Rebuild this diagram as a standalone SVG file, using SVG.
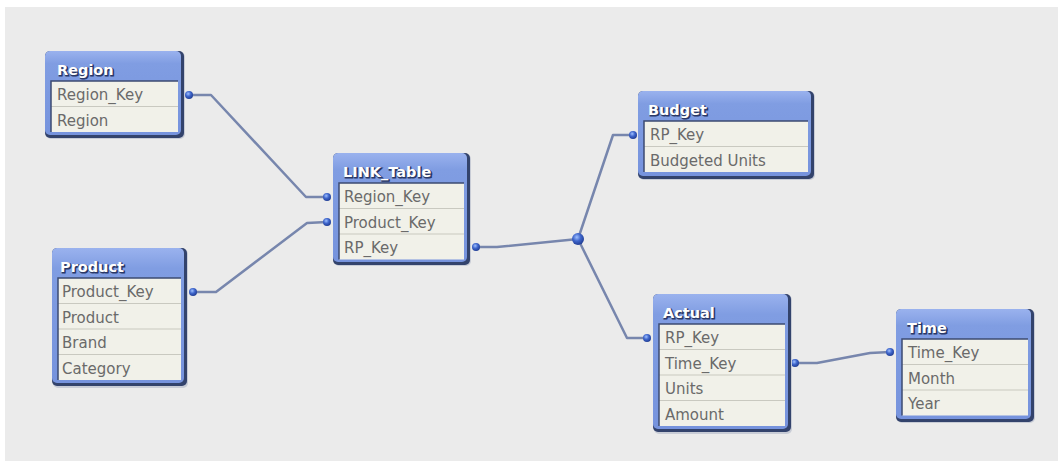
<svg xmlns="http://www.w3.org/2000/svg" width="1058" height="461" viewBox="0 0 1058 461">
<style>
.frame{fill:#33436c}
.blue{fill:url(#hdr)}
.panel{fill:#f1f1e9}
.pedge{stroke:#3c4b72;stroke-width:1.5;fill:none}
.sep{stroke:#c9c9c0;stroke-width:1.2}
.hd{font-family:"DejaVu Sans",sans-serif;font-weight:bold;font-size:14.5px;fill:#ffffff}
.hds{font-family:"DejaVu Sans",sans-serif;font-weight:bold;font-size:14.5px;fill:#2a3866;stroke:#2a3866;stroke-width:1.2}
.fld{font-family:"DejaVu Sans",sans-serif;font-size:15px;fill:#6a6a6a}
.ln{fill:none;stroke:#7786ad;stroke-width:2.5;stroke-linejoin:round}
.dot{fill:url(#dotg)}
</style>
<defs>
<linearGradient id="hdr" x1="0" y1="0" x2="0" y2="1">
<stop offset="0" stop-color="#9ab2ee"/>
<stop offset="0.15" stop-color="#809de2"/>
<stop offset="1" stop-color="#7693dd"/>
</linearGradient>
<radialGradient id="dotg" cx="0.4" cy="0.35" r="0.65">
<stop offset="0" stop-color="#9fc0ff"/>
<stop offset="0.5" stop-color="#3f66cc"/>
<stop offset="1" stop-color="#223f96"/>
</radialGradient>
</defs>
<rect x="0" y="0" width="1058" height="461" fill="#ffffff"/>
<rect x="5" y="7" width="1053" height="454" fill="#ebebeb"/>

<g id="connectors">
<polyline class="ln" points="189,95 211,95 306,197 327,197"/>
<polyline class="ln" points="193,292 216,292 307,223 327,222"/>
<polyline class="ln" points="476,247 497,247 578,239"/>
<polyline class="ln" points="578,239 613,135 633,135"/>
<polyline class="ln" points="578,239 627,338 647,338"/>
<polyline class="ln" points="795,363 817,363 870,353 890,352"/>
<circle class="dot" cx="189" cy="95" r="4"/>
<circle class="dot" cx="327" cy="197" r="4"/>
<circle class="dot" cx="193" cy="292" r="4"/>
<circle class="dot" cx="327" cy="222" r="4"/>
<circle class="dot" cx="476" cy="247" r="4"/>
<circle class="dot" cx="578" cy="239" r="6"/>
<circle class="dot" cx="633" cy="135" r="4"/>
<circle class="dot" cx="647" cy="338" r="4"/>
<circle class="dot" cx="795" cy="363" r="4"/>
<circle class="dot" cx="890" cy="352" r="4"/>
</g>

<g id="Region">
<rect x="46" y="52" width="139" height="87" rx="5" fill="#c8ccd6"/>
<rect class="frame" x="45" y="51" width="139" height="87" rx="5"/>
<rect class="blue" x="45" y="51" width="136" height="84" rx="5"/>
<rect class="panel" x="51" y="81" width="127" height="51"/>
<line class="sep" x1="51" y1="106.5" x2="178" y2="106.5"/>
<polyline class="pedge" points="51,132 51,81 178,81"/>
<text class="hds" x="58" y="76">Region</text><text class="hd" x="57" y="75">Region</text>
<text class="fld" x="57" y="100">Region_Key</text>
<text class="fld" x="57" y="126">Region</text>
</g>

<g id="Product">
<rect x="53" y="249" width="135" height="139" rx="5" fill="#c8ccd6"/>
<rect class="frame" x="52" y="248" width="135" height="138" rx="5"/>
<rect class="blue" x="52" y="248" width="132" height="135" rx="5"/>
<rect class="panel" x="58" y="278" width="123" height="102"/>
<line class="sep" x1="58" y1="303.5" x2="181" y2="303.5"/>
<line class="sep" x1="58" y1="329" x2="181" y2="329"/>
<line class="sep" x1="58" y1="354.5" x2="181" y2="354.5"/>
<polyline class="pedge" points="58,380 58,278 181,278"/>
<text class="hds" x="61" y="273">Product</text><text class="hd" x="60" y="272">Product</text>
<text class="fld" x="62" y="297">Product_Key</text>
<text class="fld" x="62" y="323">Product</text>
<text class="fld" x="62" y="348">Brand</text>
<text class="fld" x="62" y="374">Category</text>
</g>

<g id="LINK_Table">
<rect x="334" y="154" width="137" height="112" rx="5" fill="#c8ccd6"/>
<rect class="frame" x="333" y="153" width="137" height="112" rx="5"/>
<rect class="blue" x="333" y="153" width="134" height="109" rx="5"/>
<rect class="panel" x="339" y="183" width="125" height="76.5"/>
<line class="sep" x1="339" y1="208.5" x2="464" y2="208.5"/>
<line class="sep" x1="339" y1="234" x2="464" y2="234"/>
<polyline class="pedge" points="339,259.5 339,183 464,183"/>
<text class="hds" x="344" y="178">LINK_Table</text><text class="hd" x="343" y="177">LINK_Table</text>
<text class="fld" x="344" y="202">Region_Key</text>
<text class="fld" x="344" y="228">Product_Key</text>
<text class="fld" x="344" y="253">RP_Key</text>
</g>

<g id="Budget">
<rect x="639" y="92" width="176" height="88" rx="5" fill="#c8ccd6"/>
<rect class="frame" x="638" y="91" width="176" height="88" rx="5"/>
<rect class="blue" x="638" y="91" width="173" height="85" rx="5"/>
<rect class="panel" x="644" y="121" width="164" height="51"/>
<line class="sep" x1="644" y1="146.5" x2="808" y2="146.5"/>
<polyline class="pedge" points="644,172 644,121 808,121"/>
<text class="hds" x="649" y="116">Budget</text><text class="hd" x="648" y="115">Budget</text>
<text class="fld" x="650" y="140">RP_Key</text>
<text class="fld" x="650" y="166">Budgeted Units</text>
</g>

<g id="Actual">
<rect x="654" y="295" width="138" height="139" rx="5" fill="#c8ccd6"/>
<rect class="frame" x="653" y="294" width="138" height="138" rx="5"/>
<rect class="blue" x="653" y="294" width="135" height="135" rx="5"/>
<rect class="panel" x="659" y="324" width="126" height="102"/>
<line class="sep" x1="659" y1="349.5" x2="785" y2="349.5"/>
<line class="sep" x1="659" y1="375" x2="785" y2="375"/>
<line class="sep" x1="659" y1="400.5" x2="785" y2="400.5"/>
<polyline class="pedge" points="659,426 659,324 785,324"/>
<text class="hds" x="664" y="319">Actual</text><text class="hd" x="663" y="318">Actual</text>
<text class="fld" x="665" y="343">RP_Key</text>
<text class="fld" x="665" y="369">Time_Key</text>
<text class="fld" x="665" y="394">Units</text>
<text class="fld" x="665" y="420">Amount</text>
</g>

<g id="Time">
<rect x="897" y="310" width="138" height="113" rx="5" fill="#c8ccd6"/>
<rect class="frame" x="896" y="309" width="138" height="113" rx="5"/>
<rect class="blue" x="896" y="309" width="135" height="110" rx="5"/>
<rect class="panel" x="902" y="339" width="126" height="76.5"/>
<line class="sep" x1="902" y1="364.5" x2="1028" y2="364.5"/>
<line class="sep" x1="902" y1="390" x2="1028" y2="390"/>
<polyline class="pedge" points="902,415.5 902,339 1028,339"/>
<text class="hds" x="908" y="334">Time</text><text class="hd" x="907" y="333">Time</text>
<text class="fld" x="908" y="358">Time_Key</text>
<text class="fld" x="908" y="384">Month</text>
<text class="fld" x="908" y="409">Year</text>
</g>
</svg>
